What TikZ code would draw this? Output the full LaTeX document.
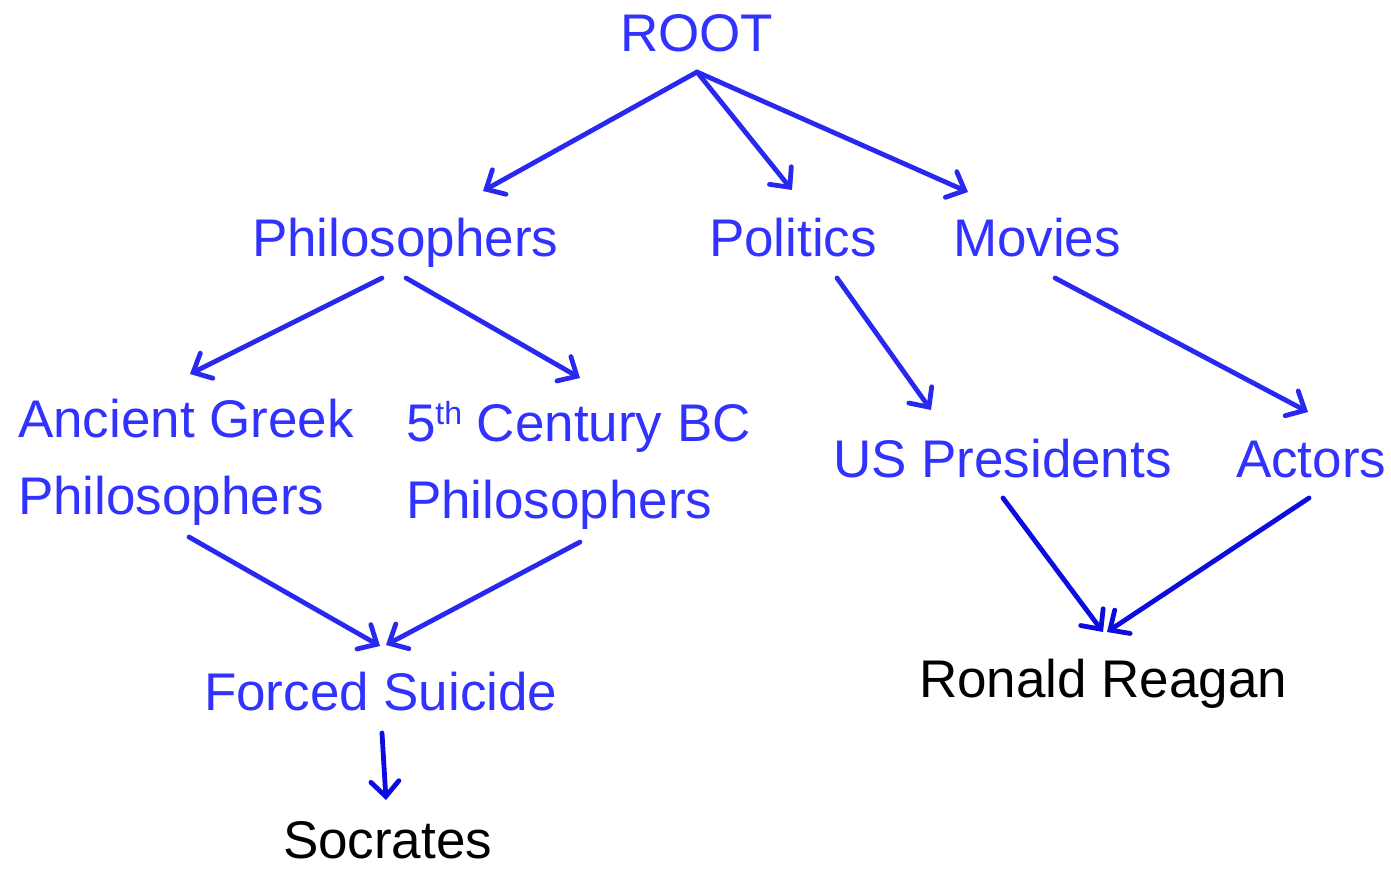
\documentclass[tikz,border=0pt]{standalone}
\usepackage{fontspec}
\setmainfont{Liberation Sans}
\usetikzlibrary{arrows.meta}
\definecolor{labelblue}{RGB}{50,50,255}
\definecolor{linkblue}{RGB}{40,40,238}
\definecolor{deepblue}{RGB}{12,12,222}
\newcommand{\ordsup}[1]{\raisebox{17pt}{\fontsize{32}{32}\selectfont #1}}
\tikzset{
  lbl/.style={inner sep=0pt, outer sep=0pt, anchor=base west, text=labelblue,
              font=\fontsize{53}{77}\selectfont},
  twoline/.style={lbl, align=left},
  leaf/.style={lbl, text=black},
  link/.style={draw=linkblue, line width=4.8pt, line cap=round,
               -{Straight Barb[length=15pt, width=28pt, line cap=round]}},
  deeplink/.style={link, draw=deepblue},
}
\begin{document}
\begin{tikzpicture}[x=1pt, y=-1pt]
\useasboundingbox (0,0) rectangle (1391,869);

% labels (anchored at the baseline of their last line)
\node[lbl] (root) at (620,52) {ROOT};
\node[lbl] (phil) at (252,256) {Philosophers};
\node[lbl] (pol)  at (709,256) {Politics};
\node[lbl] (mov)  at (953,256) {Movies};
\node[twoline] (agp) at (18,514) {Ancient Greek\\Philosophers};
\node[twoline] (cbc) at (406,518) {5\ordsup{th} Century BC\\Philosophers};
\node[lbl] (usp)  at (833,477) {US Presidents};
\node[lbl] (act)  at (1236,477) {Actors};
\node[lbl] (fs)   at (204,710) {Forced Suicide};
\node[leaf] (soc) at (283,858) {Socrates};
\node[leaf] (rr)  at (919,697) {Ronald Reagan};

% arrow end points
\coordinate (root-o) at (697,72);
\coordinate (phil-i) at (483,191);
\coordinate (pol-i)  at (792,190);
\coordinate (mov-i)  at (968,192);
\coordinate (phil-a) at (382,278);
\coordinate (phil-b) at (406,278);
\coordinate (agp-i)  at (190,374);
\coordinate (cbc-i)  at (580,378);
\coordinate (pol-o)  at (837,278);
\coordinate (usp-i)  at (931,410);
\coordinate (mov-o)  at (1055,278);
\coordinate (act-i)  at (1308,412);
\coordinate (agp-o)  at (189,537);
\coordinate (cbc-o)  at (580,542);
\coordinate (fs-a)   at (380,646);
\coordinate (fs-b)   at (386,645);
\coordinate (fs-o)   at (382,733);
\coordinate (soc-i)  at (386,800);
\coordinate (usp-o)  at (1003,498);
\coordinate (act-o)  at (1309,498);
\coordinate (rr-a)   at (1103,632);
\coordinate (rr-b)   at (1107,632);

% connectors
\draw[link] (root-o) -- (phil-i);
\draw[link] (root-o) -- (pol-i);
\draw[link] (root-o) -- (mov-i);
\draw[link] (phil-a) -- (agp-i);
\draw[link] (phil-b) -- (cbc-i);
\draw[link] (pol-o) -- (usp-i);
\draw[link] (mov-o) -- (act-i);
\draw[link] (agp-o) -- (fs-a);
\draw[link] (cbc-o) -- (fs-b);
\draw[deeplink] (fs-o) -- (soc-i);
\draw[deeplink] (usp-o) -- (rr-a);
\draw[deeplink] (act-o) -- (rr-b);
\end{tikzpicture}
\end{document}
